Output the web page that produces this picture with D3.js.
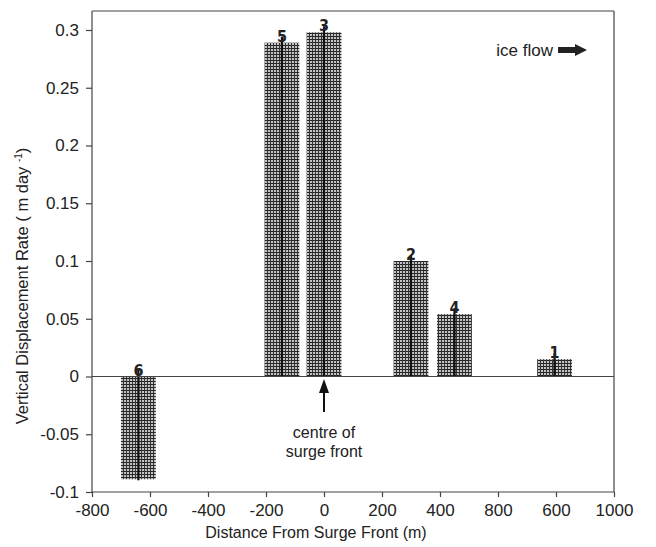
<!DOCTYPE html>
<html><head><meta charset="utf-8">
<script src="https://cdn.jsdelivr.net/npm/d3@7"></script>
<style>
body{margin:0;background:#fff;}
svg{display:block;}
text{font-family:"Liberation Sans",Arial,sans-serif;fill:#222;}
</style></head>
<body><svg id="c" width="656" height="547"></svg>
<script>
// ---- data ----
const barLabels = ["6","5","3","2","4","1"];
const barPositions = [-640,-145,0,300,450,795];   // distance from surge front (m)
const barValues = [-0.089,0.289,0.298,0.100,0.054,0.015]; // m/day
const barWidthM = 120;
const xTickValues = [-800,-600,-400,-200,0,200,400,600,800,1000];
const xTickLabels = ["-800","-600","-400","-200","0","200","400","800","600","1000"];
const yTickValues = [-0.1,-0.05,0,0.05,0.1,0.15,0.2,0.25,0.3];
const yTickLabels = ["-0.1","-0.05","0","0.05","0.1","0.15","0.2","0.25","0.3"];

const svg = d3.select("#c");
const x = d3.scaleLinear().domain([-800,1000]).range([92,614]);
const y = d3.scaleLinear().domain([-0.1,0.3]).range([492,30]);
const topY = 11;

// pattern
const defs = svg.append("defs");
const pat = defs.append("pattern").attr("id","grid").attr("patternUnits","userSpaceOnUse")
  .attr("width",3).attr("height",3);
pat.append("rect").attr("width",3).attr("height",3).attr("fill","#c4c4c4");
pat.append("rect").attr("x",0).attr("y",0).attr("width",3).attr("height",1).attr("fill","#222");
pat.append("rect").attr("x",0).attr("y",0).attr("width",1).attr("height",3).attr("fill","#333");

// frame top/right
svg.append("line").attr("x1",x.range()[0]).attr("x2",x.range()[1]).attr("y1",topY).attr("y2",topY)
  .attr("stroke","#444").attr("stroke-width",1.2);
svg.append("line").attr("x1",x.range()[1]).attr("x2",x.range()[1]).attr("y1",topY).attr("y2",y(-0.1))
  .attr("stroke","#444").attr("stroke-width",1.2);

// bars
const data = barLabels.map((l,i)=>({label:l,pos:barPositions[i],val:barValues[i]}));
const g = svg.append("g");
g.selectAll("rect.bar").data(data).enter().append("rect").attr("class","bar")
  .attr("x",d=>x(d.pos-barWidthM/2)).attr("width",d=>x(d.pos+barWidthM/2)-x(d.pos-barWidthM/2))
  .attr("y",d=>Math.min(y(d.val),y(0))).attr("height",d=>Math.abs(y(d.val)-y(0)))
  .attr("fill","url(#grid)");

// zero line
svg.append("line").attr("x1",x.range()[0]).attr("x2",x.range()[1]).attr("y1",y(0)).attr("y2",y(0))
  .attr("stroke","#444").attr("stroke-width",1.2);

// center lines
g.selectAll("line.c").data(data).enter().append("line").attr("class","c")
  .attr("x1",d=>x(d.pos)).attr("x2",d=>x(d.pos))
  .attr("y1",d=>d.val>0 ? y(d.val)-6 : y(0)-8)
  .attr("y2",d=>d.val>0 ? y(0) : y(d.val)+1)
  .attr("stroke","#111").attr("stroke-width",2.2);

// labels
g.selectAll("text.lab").data(data).enter().append("text").attr("class","lab")
  .attr("x",d=>x(d.pos)).attr("y",d=>d.val>0 ? y(d.val)-1 : y(0)-1)
  .attr("text-anchor","middle").attr("font-weight","bold").attr("font-size",16)
  .style("font-family","'Liberation Sans Narrow','DejaVu Sans Condensed',sans-serif")
  .text(d=>d.label);

// axes
const yAxis = svg.append("g").attr("transform",`translate(${x.range()[0]},0)`)
  .call(d3.axisLeft(y).tickValues(yTickValues).tickFormat((d,i)=>yTickLabels[i]).tickSize(6).tickPadding(7));
yAxis.select(".domain").attr("d",`M-0,${topY}V${y(-0.1)}`).attr("stroke","#444").attr("stroke-width",1.2);
const xAxis = svg.append("g").attr("transform",`translate(0,${y(-0.1)})`)
  .call(d3.axisBottom(x).tickValues(xTickValues).tickFormat((d,i)=>xTickLabels[i]).tickSize(5).tickPadding(7));
xAxis.select(".domain").attr("d",`M${x.range()[0]},0H${x.range()[1]}`).attr("stroke","#444").attr("stroke-width",1.2);
[xAxis,yAxis].forEach(a=>{
  a.selectAll(".tick line").attr("stroke","#444").attr("stroke-width",1.2);
  a.selectAll("text").attr("font-size",17).attr("fill","#222")
   .style("font-family","'Liberation Sans',Arial,sans-serif");
});

// axis titles
svg.append("text").attr("x",316).attr("y",538).attr("text-anchor","middle").attr("font-size",16)
  .text("Distance From Surge Front (m)");
const yt = svg.append("text").attr("transform","translate(28,286) rotate(-90)")
  .attr("text-anchor","middle").attr("font-size",16.5);
yt.append("tspan").text("Vertical Displacement Rate ( m day ");
yt.append("tspan").attr("font-size",10).attr("dy",-6).text("-1");
yt.append("tspan").attr("dy",6).text(")");

// centre of surge front annotation
const ax = x(0);
svg.append("line").attr("x1",ax).attr("x2",ax).attr("y1",412).attr("y2",388).attr("stroke","#111").attr("stroke-width",2);
svg.append("path").attr("d",`M${ax},379 L${ax-5},393 L${ax+5},393 Z`).attr("fill","#111");
svg.append("text").attr("x",ax).attr("y",438).attr("text-anchor","middle").attr("font-size",16).text("centre of");
svg.append("text").attr("x",ax).attr("y",457).attr("text-anchor","middle").attr("font-size",16).text("surge front");

// ice flow
svg.append("text").attr("x",553).attr("y",56).attr("text-anchor","end").attr("font-size",17).text("ice flow");
svg.append("path").attr("d","M558,47 L575,47 L575,44 L587,50 L575,56 L575,53 L558,53 Z").attr("fill","#222");
</script></body></html>
